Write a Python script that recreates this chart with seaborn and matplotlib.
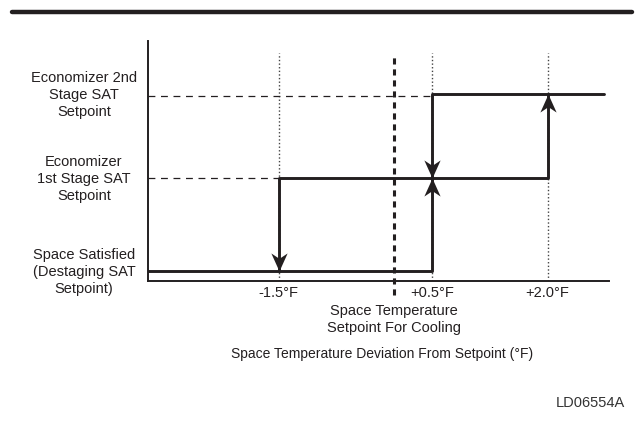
import matplotlib
matplotlib.use("Agg")
import matplotlib.pyplot as plt
import matplotlib.transforms as mtransforms
from matplotlib.lines import Line2D
from matplotlib.path import Path
import numpy as np
import pandas as pd
import seaborn as sns

# schematic values
stage_x = [-1.5, 0.5, 2.0]
tick_labels = ["-1.5°F", "+0.5°F", "+2.0°F"]
setpoint_x = 0.0
x_min, x_max = -3.2, 2.8
line_end = 2.74
levels = [0.10, 1.03, 1.87]
level_labels = [
    "Space Satisfied\n(Destaging SAT\nSetpoint)",
    "Economizer\n1st Stage SAT\nSetpoint",
    "Economizer 2nd\nStage SAT\nSetpoint",
]
y_max = 2.40
guide_top = 2.28
setpoint_top, setpoint_bottom = 2.25, -0.14

INK = "#231f20"

sns.set_style("white")
plt.rcParams["font.family"] = ["Liberation Sans", "DejaVu Sans"]

# two step paths (rising staging path and the hysteresis loop)
steps = pd.DataFrame({
    "seg": [0] * 4 + [1] * 4,
    "x": [x_min, stage_x[1], stage_x[1], line_end,
          stage_x[0], stage_x[0], stage_x[2], stage_x[2]],
    "y": [levels[0], levels[0], levels[2], levels[2],
          levels[0], levels[1], levels[1], levels[2]],
})

fig = plt.figure(figsize=(6.44, 4.31), dpi=100)
ax = fig.add_axes([148 / 644, 1 - 282 / 431, 461 / 644, 240 / 431])

# dotted guides at the stage temperatures
for xv in stage_x:
    ax.plot([xv, xv], [0, guide_top], color="#444444", lw=1.0,
            linestyle=(0, (1, 1.6)), zorder=1)

# dashed level guides
ax.plot([x_min, stage_x[1]], [levels[2] - 0.02, levels[2] - 0.02], color=INK, lw=0.9,
        linestyle=(0, (5.5, 4.5)), zorder=1)
ax.plot([x_min, stage_x[0]], [levels[1], levels[1]], color=INK, lw=0.9,
        linestyle=(0, (5.5, 4.5)), zorder=1)

# thick dashed cooling setpoint
ax.plot([setpoint_x, setpoint_x], [setpoint_bottom, setpoint_top], color=INK,
        lw=2.2, linestyle=(0, (2, 1.6)), clip_on=False, zorder=2)

sns.lineplot(data=steps, x="x", y="y", units="seg", estimator=None, sort=False,
             color=INK, linewidth=2.1, ax=ax, zorder=3)

# stealth arrow heads
down_head = Path([(0, 0), (-0.45, 1), (0, 0.7), (0.45, 1), (0, 0)],
                 [Path.MOVETO, Path.LINETO, Path.LINETO, Path.LINETO, Path.CLOSEPOLY])
up_head = Path([(0, 0), (-0.45, -1), (0, -0.7), (0.45, -1), (0, 0)],
               [Path.MOVETO, Path.LINETO, Path.LINETO, Path.LINETO, Path.CLOSEPOLY])
ax.plot([stage_x[0], stage_x[1]], [levels[0], levels[1]], linestyle="none",
        marker=down_head, markersize=26, color=INK, markeredgewidth=0, zorder=4)
ax.plot([stage_x[1], stage_x[2]], [levels[1], levels[2]], linestyle="none",
        marker=up_head, markersize=26, color=INK, markeredgewidth=0, zorder=4)

ax.set_xlim(x_min, x_max)
ax.set_ylim(0, y_max)
ax.set_xticks(stage_x)
ax.set_xticklabels(tick_labels, fontsize=10.5, color=INK)
ax.set_yticks([])
ax.tick_params(axis="x", length=0, pad=3)
ax.set_xlabel("")
ax.set_ylabel("")
for side in ["top", "right"]:
    ax.spines[side].set_visible(False)
for side in ["left", "bottom"]:
    ax.spines[side].set_color(INK)
    ax.spines[side].set_linewidth(1.4)

trans_y = mtransforms.blended_transform_factory(ax.transAxes, ax.transData)
for lv, lab in zip(levels, level_labels):
    ax.text(-0.139, lv, lab, transform=trans_y, ha="center", va="center",
            multialignment="center", fontsize=10.5, color=INK, linespacing=1.25)

trans_x = mtransforms.blended_transform_factory(ax.transData, ax.transAxes)
ax.text(setpoint_x, -0.155, "Space Temperature\nSetpoint For Cooling", transform=trans_x,
        ha="center", va="center", multialignment="center", fontsize=10.5,
        color=INK, linespacing=1.25)

fig.text(382 / 644, 1 - 354 / 431, "Space Temperature Deviation From Setpoint (°F)",
         ha="center", va="center", fontsize=10, color=INK)
fig.text(625 / 644, 1 - 403 / 431, "LD06554A", ha="right", va="center",
         fontsize=10.5, color="#333333")

# heavy rule across the top of the page
fig.add_artist(Line2D([12 / 644, 632 / 644], [1 - 13 / 431, 1 - 13 / 431],
                      color=INK, lw=3.2, transform=fig.transFigure))

fig.savefig("out.png", dpi=100)
